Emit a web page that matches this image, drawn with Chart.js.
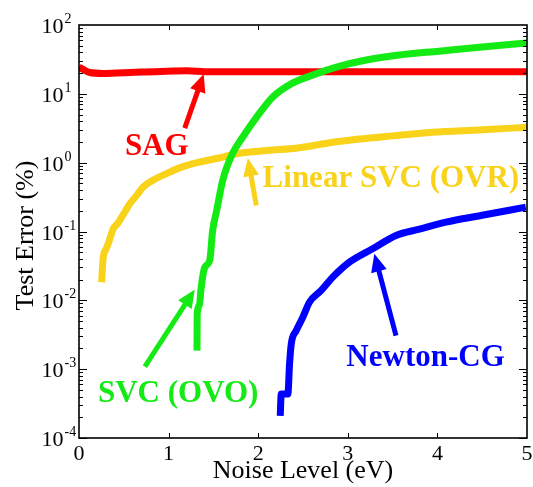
<!DOCTYPE html>
<html><head><meta charset="utf-8">
<script src="https://cdn.jsdelivr.net/npm/chart.js@4.4.0/dist/chart.umd.min.js"></script>
<style>html,body{margin:0;padding:0;background:#fff}#wrap{width:533px;height:487px;position:relative}</style>
</head><body><div id="wrap"><canvas id="c" width="533" height="487"></canvas></div>
<script>
// ---- data ----
const sagX = [0, 0.04, 0.12, 0.27, 0.5, 0.75, 1.05, 1.2, 1.4, 1.6, 2.0, 3.0, 4.0, 5.0];
const sagY = [24.5, 22.8, 20.4, 19.8, 20.3, 20.8, 21.4, 21.6, 21.0, 20.9, 20.9, 20.9, 20.9, 20.9];

const ovrX = [0.253, 0.262, 0.271, 0.30, 0.326, 0.382, 0.43, 0.476, 0.52, 0.568, 0.64, 0.716, 0.85, 0.977, 1.12, 1.273, 1.533, 1.793, 2.1, 2.461, 2.8, 3.129, 3.5, 3.942, 4.5, 5.0];
const ovrY = [0.0183, 0.03, 0.0424, 0.055, 0.0664, 0.110, 0.13, 0.162, 0.20, 0.254, 0.33, 0.443, 0.58, 0.693, 0.84, 0.970, 1.15, 1.37, 1.50, 1.65, 1.95, 2.2, 2.45, 2.77, 3.0, 3.27];

const ovoX = [1.317, 1.319, 1.345, 1.36, 1.403, 1.459, 1.492, 1.537, 1.604, 1.715, 1.826, 1.982, 2.160, 2.383, 2.606, 2.873, 3.207, 3.575, 4.02, 4.499, 5.0];
const ovoY = [0.00186, 0.0064, 0.0085, 0.0139, 0.030, 0.038, 0.104, 0.203, 0.554, 1.37, 2.34, 4.58, 8.95, 14.3, 18.7, 24.5, 31, 36.6, 41.7, 47.9, 54.7];

const ncgX = [2.246, 2.257, 2.331, 2.35, 2.369, 2.424, 2.498, 2.572, 2.703, 2.832, 3.018, 3.277, 3.538, 3.8, 4.095, 4.5, 4.986];
const ncgY = [0.000210, 0.000435, 0.000435, 0.0012, 0.00233, 0.00363, 0.00568, 0.00938, 0.0139, 0.0217, 0.0359, 0.0562, 0.0877, 0.108, 0.137, 0.172, 0.226];

const xTickValues = [0, 1, 2, 3, 4, 5];
const xTickLabels = ['0', '1', '2', '3', '4', '5'];
const yTickValues = [100, 10, 1, 0.1, 0.01, 0.001, 0.0001];
const yTickExponents = ['2', '1', '0', '-1', '-2', '-3', '-4'];

const seriesNames = ['SAG', 'Linear SVC (OVR)', 'SVC (OVO)', 'Newton-CG'];
const xTitle = 'Noise Level (eV)';
const yTitle = 'Test Error (%)';

// annotations (in data coordinates): label anchor and arrow tail -> tip
const labelX = [0.512, 2.049, 0.212, 2.984];
const labelY = [1.28, 0.438, 0.000337, 0.001125];
const arrowTailX = [1.180, 1.979, 0.735, 3.538];
const arrowTailY = [3.17, 0.240, 0.00109, 0.00307];
const arrowTipX = [1.392, 1.885, 1.292, 3.296];
const arrowTipY = [19.4, 1.16, 0.0144, 0.0475];

// ---- styling ----
const colors = ['#ff0000', '#f9d21a', '#14ea14', '#0000ff'];
const drawOrder = [3, 2, 0, 1];
const pts = (xs, ys) => xs.map((v, i) => ({x: v, y: ys[i]}));
const seriesData = [pts(sagX, sagY), pts(ovrX, ovrY), pts(ovoX, ovoY), pts(ncgX, ncgY)];

const SERIF = '"Liberation Serif", "Times New Roman", serif';

const decor = {
  id: 'decor',
  afterDatasetsDraw(chart) {
    const {ctx, scales: {x, y}} = chart;
    ctx.save();
    for (let i = 0; i < 4; i++) {
      const x0 = x.getPixelForValue(arrowTailX[i]), y0 = y.getPixelForValue(arrowTailY[i]);
      const x1 = x.getPixelForValue(arrowTipX[i]), y1 = y.getPixelForValue(arrowTipY[i]);
      const ang = Math.atan2(y1 - y0, x1 - x0);
      const hl = 18, hw = 8;
      const bx = x1 - hl * Math.cos(ang), by = y1 - hl * Math.sin(ang);
      ctx.strokeStyle = colors[i]; ctx.fillStyle = colors[i];
      ctx.lineWidth = 5; ctx.lineCap = 'butt';
      ctx.beginPath(); ctx.moveTo(x0, y0); ctx.lineTo(bx + 2 * Math.cos(ang), by + 2 * Math.sin(ang)); ctx.stroke();
      ctx.beginPath();
      ctx.moveTo(x1, y1);
      ctx.lineTo(bx + hw * Math.sin(ang), by - hw * Math.cos(ang));
      ctx.lineTo(bx - hw * Math.sin(ang), by + hw * Math.cos(ang));
      ctx.closePath(); ctx.fill();
      ctx.font = 'bold 31px ' + SERIF;
      ctx.textAlign = 'left'; ctx.textBaseline = 'alphabetic';
      ctx.fillText(seriesNames[i], x.getPixelForValue(labelX[i]), y.getPixelForValue(labelY[i]));
    }
    ctx.restore();
  },
  afterDraw(chart) {
    const {ctx, chartArea: a, scales: {x, y}} = chart;
    ctx.save();
    ctx.strokeStyle = '#000'; ctx.fillStyle = '#000';
    ctx.lineWidth = 1.6;
    ctx.strokeRect(a.left, a.top, a.right - a.left, a.bottom - a.top);
    ctx.lineWidth = 1;
    xTickValues.forEach((v, i) => {
      const px = Math.round(x.getPixelForValue(v)) + 0.5;
      if (i > 0 && i < xTickValues.length - 1) {
        ctx.beginPath();
        ctx.moveTo(px, a.bottom); ctx.lineTo(px, a.bottom - 5);
        ctx.moveTo(px, a.top); ctx.lineTo(px, a.top + 5);
        ctx.stroke();
      }
      ctx.font = '22px ' + SERIF; ctx.textAlign = 'center'; ctx.textBaseline = 'alphabetic';
      ctx.fillText(xTickLabels[i], x.getPixelForValue(v), a.bottom + 22);
    });
    for (let k = -4; k <= 1; k++) {
      for (let n = 1; n <= 9; n++) {
        const v = n * Math.pow(10, k);
        const py = Math.round(y.getPixelForValue(v)) + 0.5;
        const len = n === 1 ? 8 : 4;
        ctx.beginPath();
        ctx.moveTo(a.left, py); ctx.lineTo(a.left + len, py);
        ctx.moveTo(a.right, py); ctx.lineTo(a.right - len, py);
        ctx.stroke();
      }
    }
    yTickValues.forEach((v, i) => {
      const py = y.getPixelForValue(v);
      ctx.font = '22px ' + SERIF; ctx.textAlign = 'right'; ctx.textBaseline = 'alphabetic';
      ctx.fillText('10', a.left - 15.5, py + 8);
      ctx.font = '14px ' + SERIF; ctx.textAlign = 'left';
      ctx.fillText(yTickExponents[i], a.left - 14.5, py - 2);
    });
    ctx.font = '26px ' + SERIF; ctx.textAlign = 'center'; ctx.textBaseline = 'alphabetic';
    ctx.fillText(xTitle, (a.left + a.right) / 2, 478);
    ctx.translate(33, (a.top + a.bottom) / 2 + 4);
    ctx.rotate(-Math.PI / 2);
    ctx.fillText(yTitle, 0, 0);
    ctx.restore();
  }
};

new Chart(document.getElementById('c'), {
  type: 'line',
  data: {
    datasets: seriesData.map((d, i) => ({
      label: seriesNames[i],
      data: d,
      borderColor: colors[i],
      backgroundColor: colors[i],
      borderWidth: 7,
      pointRadius: 0,
      cubicInterpolationMode: 'monotone',
      fill: false,
      borderJoinStyle: 'round',
      borderCapStyle: 'butt',
      order: drawOrder[i]
    }))
  },
  options: {
    responsive: false,
    animation: false,
    events: [],
    layout: {padding: {left: 79, right: 6, top: 25, bottom: 49}},
    plugins: {legend: {display: false}, tooltip: {enabled: false}},
    scales: {
      x: {
        type: 'linear', min: 0, max: 5,
        ticks: {display: false},
        grid: {display: false, drawTicks: false},
        border: {display: false}
      },
      y: {
        type: 'logarithmic', min: 0.0001, max: 100,
        ticks: {display: false},
        grid: {display: false, drawTicks: false},
        border: {display: false}
      }
    }
  },
  plugins: [decor]
});
</script>
</body></html>
